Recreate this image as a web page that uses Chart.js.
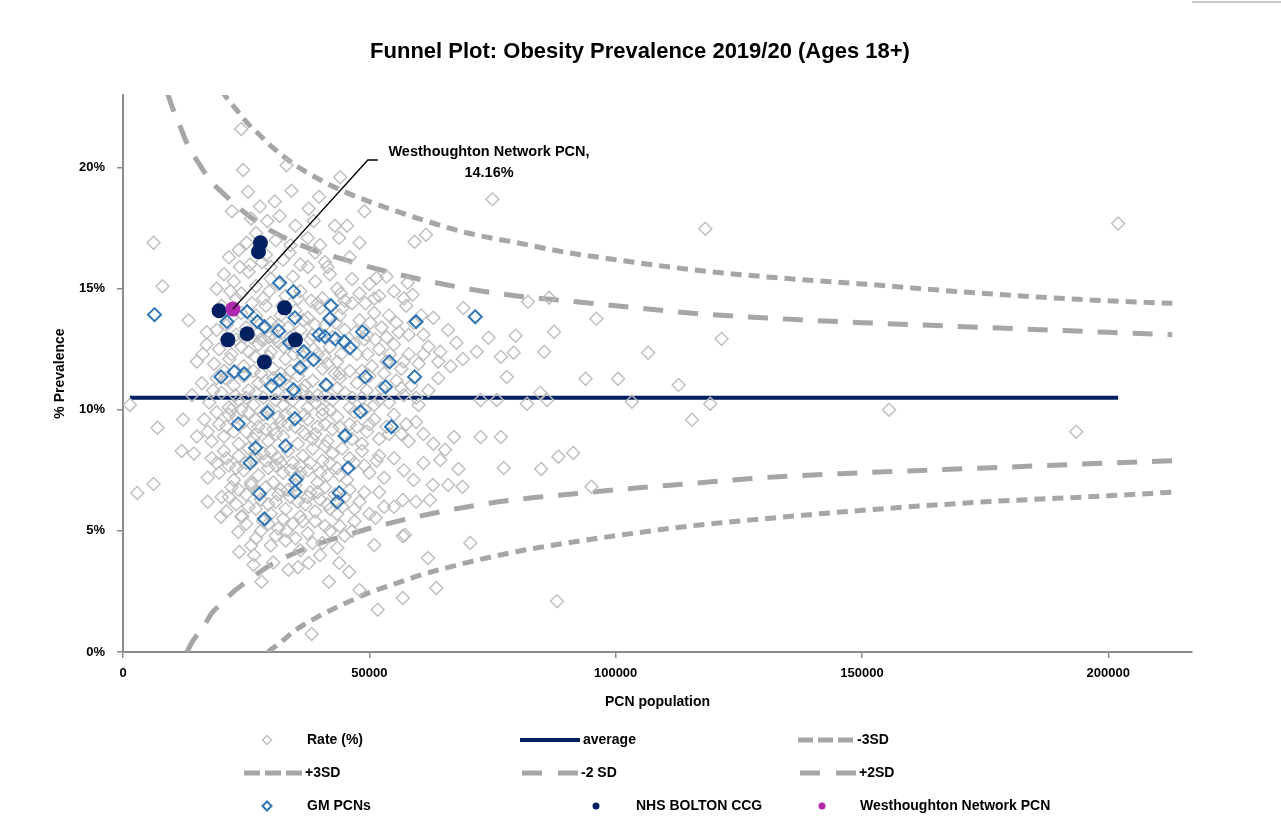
<!DOCTYPE html>
<html>
<head>
<meta charset="utf-8">
<title>Funnel Plot: Obesity Prevalence 2019/20</title>
<script src="https://cdn.jsdelivr.net/npm/chart.js@4.4.0/dist/chart.umd.min.js"></script>
<style>
  html, body { margin: 0; padding: 0; background: #fff; overflow: hidden; }
  #wrap { width: 1281px; height: 832px; }
</style>
</head>
<body>
<div id="wrap"><canvas id="funnel" width="1281" height="832"></canvas></div>
<script>
// population values are in thousands, rates in %
const titleText = 'Funnel Plot: Obesity Prevalence 2019/20 (Ages 18+)';
const xTicks = [0, 50000, 100000, 150000, 200000];
const yTicks = [0, 5, 10, 15, 20];

// all PCNs (grey diamonds)
const ratePoints = [
  [1.4,10.2],[2.9,6.57],[6.2,6.94],[6.2,16.9],[8.0,15.1],[7.0,9.26],[13.3,13.7],[11.9,8.3],[14.4,8.2],[17.2,7.2],
  [17.2,6.2],[12.2,9.6],[15.0,12.0],
  [24.0,21.6],[24.4,19.9],[25.4,19.0],[30.8,18.6],[34.2,19.05],[33.2,20.1],[44.1,19.6],[39.8,18.8],[49.0,18.2],
  [37.7,18.3],[29.3,17.8],[22.1,18.2],[38.7,17.8],[45.5,17.6],[43.0,17.6],[43.9,17.1],[59.2,16.94],[61.5,17.23],
  [75.0,18.7],[51.5,15.45],[57.8,15.25],[58.8,14.75],[69.1,14.2],[82.2,14.46],[86.5,14.63],[74.2,12.98],[79.7,13.06],
  [87.5,13.22],[96.1,13.76],[85.5,12.4],[64.4,12.4],[67.7,12.77],[71.8,12.4],[76.7,12.19],[79.3,12.36],[77.9,11.36],
  [72.6,10.41],[75.9,10.41],[82.0,10.25],[84.7,10.7],[86.1,10.41],[93.9,11.28],[100.5,11.28],[103.3,10.33],
  [67.2,8.88],[65.4,8.35],[72.6,8.88],[76.7,8.88],[64.4,7.93],[68.1,7.56],[68.9,6.82],[66.0,6.9],[62.9,6.9],
  [77.3,7.6],[84.9,7.56],[88.4,8.06],[91.4,8.22],[95.1,6.82],[59.5,6.2],[56.8,6.28],[62.3,6.28],[51.0,4.42],
  [56.8,4.79],[51.3,5.54],[57.2,4.83],[70.5,4.5],[28.1,2.9],[33.6,3.4],[37.7,3.68],[41.8,2.9],[43.9,3.68],
  [45.9,3.3],[48.0,2.56],[38.3,0.74],[51.7,1.74],[56.8,2.23],[61.9,3.88],[63.6,2.64],[88.1,2.1],
  [118.2,17.48],[121.5,12.93],[106.6,12.36],[115.5,9.59],[119.2,10.25],[112.8,11.03],[155.5,10.0],[193.5,9.09],[202.0,17.69],
  // 16 - 17.5
  [21.5,16.3],[23.5,16.6],[25.8,16.0],[27.0,17.3],[29.0,16.4],[31.0,17.0],[32.5,16.2],[34.0,16.8],[36.0,16.0],
  [37.5,17.1],[39.0,16.5],[41.0,16.1],[46.0,16.3],[48.0,16.9],[26.0,17.9],[30.0,15.9],
  [23.7,15.9],[28.2,16.1],[33.8,16.5],[40.0,16.8],[35.0,17.6],[31.8,18.0],[27.8,18.4],[25.1,16.9],
  // 14.5 - 16
  [19.0,15.0],[20.5,15.6],[22.5,15.3],[24.0,14.8],[25.5,15.7],[27.0,15.1],[28.5,14.6],[30.0,15.4],[31.5,15.2],
  [33.0,14.7],[34.5,15.5],[36.0,14.9],[37.5,15.9],[39.0,15.3],[40.5,14.6],[42.0,15.6],[43.5,15.0],[45.0,14.5],
  [46.5,15.4],[48.0,14.8],[50.0,15.2],[52.0,14.7],[53.5,15.5],[55.0,14.9],[57.0,14.6],[23.0,14.6],[35.5,14.6],[41.5,15.9],
  [21.8,14.9],[26.2,14.4],[29.7,14.9],[32.3,14.3],[38.2,14.5],[44.2,14.8],[49.2,14.4],[51.0,14.6],
  // 13 - 14.5
  [17.0,13.2],[19.0,13.3],[20.0,14.3],[21.0,13.5],[23.0,13.1],[24.0,14.0],[25.0,13.4],[26.5,13.8],[27.5,13.2],
  [29.0,14.3],[30.0,13.6],[31.0,13.0],[32.0,13.9],[33.5,13.4],[35.0,14.1],[36.0,13.3],[37.5,13.8],[38.5,13.1],
  [40.0,14.2],[41.0,13.5],[42.5,13.0],[44.0,13.9],[45.0,13.3],[46.5,14.4],[48.0,13.7],[49.5,13.1],[51.0,14.0],
  [52.5,13.4],[54.0,13.9],[56.0,13.2],[57.5,14.3],[59.0,13.6],[61.0,13.1],[63.0,13.8],[66.0,13.3],[28.0,12.9],
  [34.0,13.0],[39.5,14.4],[44.5,14.2],
  [22.0,13.8],[24.6,13.0],[27.0,13.9],[29.6,13.0],[31.6,13.5],[33.0,14.2],[36.6,13.7],[39.0,13.5],[43.2,13.6],
  [47.2,13.2],[50.2,13.6],[53.5,13.0],[55.5,13.6],[58.0,13.1],[60.5,13.9],
  // 11.5 - 13
  [17.0,12.7],[18.5,11.9],[19.5,12.5],[20.5,11.6],[22.0,12.3],[23.0,12.9],[24.5,11.8],[25.5,12.4],[26.5,11.6],
  [27.5,12.7],[29.5,12.2],[30.5,11.7],[31.5,12.8],[33.0,12.1],[34.0,11.6],[35.5,12.5],[37.0,11.9],[38.0,12.9],
  [39.5,12.3],[40.5,11.7],[42.0,12.6],[43.5,12.0],[45.0,12.8],[46.0,11.6],[47.5,12.3],[49.0,12.9],[50.5,11.8],
  [52.0,12.5],[53.5,12.0],[55.0,12.7],[56.5,11.7],[58.0,12.3],[60.0,11.9],[62.0,12.6],[64.0,12.0],[66.5,11.8],
  [69.0,12.1],[21.0,12.9],[26.0,13.0],[32.0,11.5],[36.5,12.2],[41.0,12.2],[44.0,11.5],[48.5,11.6],
  [16.2,12.3],[21.6,12.1],[24.0,12.6],[26.8,12.2],[28.6,12.9],[30.0,12.4],[32.6,12.6],[34.7,12.3],[36.2,11.7],
  [38.7,12.5],[41.5,11.9],[44.3,12.3],[46.8,12.7],[49.6,12.3],[51.2,12.9],[54.2,12.3],[57.0,12.0],[61.0,12.3],
  // 10 - 11.5
  [14.0,10.6],[16.0,11.1],[17.5,10.3],[19.0,11.3],[20.0,10.7],[21.5,10.1],[22.5,11.0],[23.5,10.4],[24.5,11.4],
  [25.5,10.8],[26.5,10.2],[27.5,11.1],[28.5,10.5],[29.5,10.0],[30.5,11.3],[31.5,10.7],[32.5,10.2],[33.5,11.0],
  [34.5,10.4],[35.5,11.4],[36.5,10.8],[37.5,10.1],[38.5,11.2],[39.5,10.6],[40.5,10.0],[41.5,11.0],[42.5,10.4],
  [44.0,11.3],[45.0,10.7],[46.0,10.1],[47.5,11.1],[48.5,10.5],[50.0,11.4],[51.0,10.2],[52.5,10.9],[54.0,10.3],
  [55.5,11.2],[57.0,10.6],[58.5,11.0],[60.0,10.2],[62.0,10.8],[64.0,11.3],[24.0,10.0],[28.0,11.5],[33.0,10.6],
  [38.0,10.5],[43.0,11.5],[49.0,10.0],[53.0,11.5],
  [18.3,10.8],[20.8,11.3],[22.8,10.6],[25.0,10.5],[27.0,10.7],[29.0,11.2],[31.0,10.4],[33.0,11.3],[35.0,10.7],
  [37.0,11.0],[39.0,10.3],[41.0,10.6],[43.5,10.9],[46.5,10.5],[49.5,10.8],[52.0,10.4],[56.5,10.9],[59.5,10.5],
  // 8.5 - 10
  [15.0,8.9],[16.5,9.6],[18.0,8.7],[19.5,9.4],[20.5,8.9],[21.5,9.8],[22.5,9.1],[23.5,8.6],[24.5,9.5],[25.5,9.9],
  [26.5,8.8],[27.5,9.3],[28.5,9.8],[29.5,8.7],[30.5,9.2],[31.5,9.7],[32.5,8.9],[33.5,9.4],[34.5,9.9],[35.5,8.6],
  [36.5,9.1],[37.5,9.6],[38.5,8.8],[39.5,9.3],[40.5,9.8],[41.5,8.7],[42.5,9.2],[43.5,9.7],[45.0,8.9],[46.0,9.4],
  [47.0,9.9],[48.5,8.6],[49.5,9.1],[51.0,9.6],[52.0,8.8],[53.5,9.3],[55.0,9.8],[56.5,9.0],[58.0,8.7],[59.5,9.5],
  [61.0,9.0],[63.0,8.6],[22.0,10.0],[27.0,9.0],[32.0,9.5],[37.0,9.0],[42.0,10.0],[47.5,9.3],
  [17.2,9.1],[19.0,9.9],[21.0,9.3],[23.0,9.7],[25.0,9.1],[27.0,9.6],[29.0,9.2],[31.0,9.0],[33.0,9.8],[35.0,9.3],
  [36.8,9.8],[39.0,9.0],[41.0,9.4],[44.0,9.3],[46.5,8.8],[50.0,9.4],[54.0,9.0],[57.5,9.4],
  // 7 - 8.5
  [18.0,8.0],[19.5,7.4],[20.5,8.3],[21.5,7.7],[22.5,7.1],[23.5,8.1],[24.5,7.5],[25.5,8.4],[26.5,7.9],[27.5,7.3],
  [28.5,8.2],[29.5,7.6],[30.5,7.0],[31.5,8.0],[32.5,7.4],[33.5,8.3],[34.5,7.8],[35.5,7.2],[36.5,8.1],[37.5,7.5],
  [38.5,8.4],[39.5,7.0],[40.5,7.9],[41.5,7.3],[42.5,8.2],[43.5,7.6],[44.5,8.4],[45.5,7.1],[47.0,7.8],[48.5,8.3],
  [50.0,7.4],[51.5,7.9],[53.0,7.2],[55.0,8.0],[57.0,7.5],[59.0,7.1],[61.0,7.8],[26.0,7.0],[31.0,7.7],[36.0,7.7],[41.0,8.5],
  [19.0,7.8],[21.0,8.0],[23.0,7.6],[25.0,7.8],[27.0,8.1],[29.0,7.9],[30.0,8.3],[32.0,7.8],[34.0,7.5],[36.0,7.4],
  [38.0,7.8],[40.0,7.4],[42.0,7.8],[44.0,7.3],[46.0,8.0],[49.0,7.7],[52.0,8.1],
  // 5.5 - 7
  [20.0,6.4],[21.0,5.8],[22.0,6.8],[23.0,6.1],[24.0,5.6],[25.0,6.5],[26.0,6.9],[27.0,5.9],[28.0,6.3],[29.0,6.8],
  [30.0,5.7],[31.0,6.2],[32.0,6.7],[33.0,5.9],[34.0,6.4],[35.0,6.9],[36.0,5.6],[37.0,6.1],[38.0,6.6],[39.0,5.8],
  [40.0,6.3],[41.0,6.8],[42.0,5.9],[43.0,6.5],[44.5,6.0],[46.0,6.7],[48.0,6.2],[50.0,5.7],[52.0,6.6],[55.0,6.0],[19.9,5.58],
  [21.5,6.4],[23.5,6.7],[25.5,6.0],[27.5,6.6],[29.5,6.1],[31.5,6.5],[33.5,6.7],[35.5,6.2],[37.5,6.4],[39.5,6.6],
  [41.5,6.1],[43.5,5.7],[45.0,6.4],[47.0,5.9],[49.0,6.6],[53.0,6.0],
  // 3.5 - 5.5
  [23.4,4.96],[23.6,4.13],[26.6,4.0],[25.0,5.3],[27.0,4.7],[28.5,5.4],[30.0,4.4],[31.5,5.1],[33.0,4.6],[34.5,5.3],
  [36.0,4.2],[37.5,4.9],[39.0,5.4],[40.5,4.5],[42.0,5.0],[43.5,4.3],[45.0,4.8],[33.2,5.0],[47.0,5.4],
  [24.2,5.6],[26.0,4.4],[28.0,5.0],[29.5,5.3],[31.0,4.8],[32.5,5.5],[35.0,4.7],[36.5,5.4],[38.5,4.5],[41.0,5.2],
  [44.0,5.2],[46.5,5.0],[26.5,3.6],[30.5,3.7],[35.5,3.5],[40.0,4.0]
];

// Greater Manchester PCNs (blue diamonds)
const gmPoints = [
  [6.4,13.93],[25.2,14.05],[21.1,13.64],[27.3,13.64],[28.7,13.43],[31.6,13.26],[31.8,15.25],[34.6,14.88],[34.9,13.8],
  [33.8,12.77],[36.7,12.4],[38.7,12.07],[35.9,11.74],[42.2,14.3],[42.0,13.76],[39.8,13.1],[41.0,13.02],[43.1,12.93],
  [44.9,12.81],[46.1,12.56],[48.6,13.22],[49.2,11.36],[41.2,11.03],[34.6,10.83],[31.8,11.24],[30.1,10.99],[24.6,11.49],
  [22.6,11.57],[19.9,11.36],[29.3,9.88],[23.4,9.42],[34.9,9.63],[48.2,9.92],[45.1,8.93],[33.0,8.51],[26.9,8.43],
  [25.8,7.81],[45.7,7.6],[27.7,6.53],[28.7,5.5],[35.1,7.11],[34.9,6.61],[43.9,6.57],[43.5,6.2],[59.2,11.36],
  [53.3,10.95],[54.5,9.3],[59.5,13.64],[71.5,13.84],[54.1,11.98]
];

// NHS Bolton CCG PCNs (navy dots)
const boltonPoints = [
  [19.5,14.09],[32.8,14.21],[21.3,12.89],[25.2,13.14],[35.0,12.89],[28.7,11.98],[27.9,16.9],[27.5,16.53]
];

const westhoughton = [[22.3,14.16]];

const averageLine = [[1.4,10.5],[202.0,10.5]];

// control limits
const plus3sd = [[20,23.2],[21,22.9],[23,22.4],[25,21.9],[28,21.3],[30,20.9],[35,20.1],[40,19.5],[45,19.0],[50,18.6],
  [60,17.9],[70,17.3],[80,16.9],[90,16.5],[100,16.2],[115,15.8],[130,15.5],[150,15.2],[175,14.8],[200,14.5],[213,14.4]];
const plus2sd = [[9,23.1],[10,22.5],[11,22.0],[12,21.5],[13,21.0],[15,20.3],[18,19.4],[20,19.0],[25,18.1],[30,17.4],
  [35,16.9],[40,16.5],[45,16.2],[50,15.9],[60,15.4],[70,15.0],[80,14.7],[90,14.5],[100,14.3],[115,14.0],[130,13.8],
  [150,13.6],[175,13.4],[200,13.2],[213,13.1]];
const minus2sd = [[13,0.0],[14,0.4],[15,0.7],[16.5,1.1],[18,1.6],[20,2.0],[22.5,2.5],[25,2.9],[30,3.6],[35,4.1],
  [40,4.5],[45,4.8],[50,5.1],[60,5.6],[70,6.0],[80,6.3],[90,6.5],[100,6.7],[115,6.95],[130,7.2],[150,7.4],[175,7.6],
  [200,7.8],[213,7.9]];
const minus3sd = [[29.4,0.0],[32,0.4],[35,0.9],[40,1.5],[45,2.0],[50,2.45],[55,2.8],[60,3.15],[70,3.7],[80,4.15],
  [90,4.5],[100,4.8],[115,5.2],[130,5.5],[150,5.85],[175,6.2],[200,6.45],[213,6.6]];

const FONT = "'Liberation Sans', Arial, sans-serif";
const GREY = '#a6a6a6';
const NAVY = '#002060';

const toXY = arr => arr.map(p => ({ x: p[0] * 1000, y: p[1] }));

const sdLine = (label, data, dash) => ({
  label: label,
  data: toXY(data),
  showLine: true,
  pointRadius: 0,
  borderColor: GREY,
  borderWidth: 5,
  borderDash: dash,
  cubicInterpolationMode: 'monotone',
  clip: 0,
  order: 6
});

// title, axis titles, legend and the data label are drawn by hand
const decor = {
  id: 'decor',
  afterDraw(chart) {
    const ctx = chart.ctx;
    const area = chart.chartArea;
    const xs = chart.scales.x, ys = chart.scales.y;
    ctx.save();
    ctx.fillStyle = '#000';
    ctx.textBaseline = 'middle';

    ctx.textAlign = 'center';
    ctx.font = 'bold 22px ' + FONT;
    ctx.fillText(titleText, 640, 52);

    ctx.font = 'bold 14px ' + FONT;
    ctx.fillText('PCN population', (area.left + area.right) / 2, 702);
    ctx.save();
    ctx.translate(60, (area.top + area.bottom) / 2);
    ctx.rotate(-Math.PI / 2);
    ctx.fillText('% Prevalence', 0, 0);
    ctx.restore();

    // leader line + label for Westhoughton
    const px = xs.getPixelForValue(westhoughton[0][0] * 1000);
    const py = ys.getPixelForValue(westhoughton[0][1]);
    ctx.strokeStyle = '#000';
    ctx.lineWidth = 1.3;
    ctx.beginPath();
    ctx.moveTo(px, py);
    ctx.lineTo(px + 135, 160);
    ctx.lineTo(px + 145, 160);
    ctx.stroke();
    ctx.font = 'bold 14.5px ' + FONT;
    ctx.fillText('Westhoughton Network PCN,', 489, 152);
    ctx.fillText('14.16%', 489, 173);

    // legend
    const hline = (x1, x2, y, color, w, dash) => {
      ctx.save();
      ctx.strokeStyle = color;
      ctx.lineWidth = w;
      ctx.setLineDash(dash);
      ctx.beginPath();
      ctx.moveTo(x1, y);
      ctx.lineTo(x2, y);
      ctx.stroke();
      ctx.restore();
    };
    const diamond = (x, y, r, color, w) => {
      ctx.save();
      ctx.strokeStyle = color;
      ctx.lineWidth = w;
      ctx.beginPath();
      ctx.moveTo(x, y - r); ctx.lineTo(x + r, y); ctx.lineTo(x, y + r); ctx.lineTo(x - r, y);
      ctx.closePath();
      ctx.stroke();
      ctx.restore();
    };
    const dot = (x, y, r, color) => {
      ctx.save();
      ctx.fillStyle = color;
      ctx.beginPath();
      ctx.arc(x, y, r, 0, Math.PI * 2);
      ctx.fill();
      ctx.restore();
    };

    diamond(267, 740, 4.5, '#bdbdbd', 1.4);
    hline(520, 580, 740, NAVY, 4, []);
    hline(798, 853, 740, GREY, 5, [15, 5]);
    hline(244, 302, 773, GREY, 5, [16, 5]);
    hline(522, 578, 773, GREY, 5, [20, 16]);
    hline(800, 856, 773, GREY, 5, [20, 16]);
    diamond(267, 806, 4.5, '#2e75b6', 2);
    dot(596, 806, 3.5, NAVY);
    dot(822, 806, 3.5, '#b02ab0');

    ctx.textAlign = 'left';
    ctx.font = 'bold 14px ' + FONT;
    ctx.fillText('Rate (%)', 307, 740);
    ctx.fillText('average', 583, 740);
    ctx.fillText('-3SD', 857, 740);
    ctx.fillText('+3SD', 305, 773);
    ctx.fillText('-2 SD', 581, 773);
    ctx.fillText('+2SD', 859, 773);
    ctx.fillText('GM PCNs', 307, 806);
    ctx.fillText('NHS BOLTON CCG', 636, 806);
    ctx.fillText('Westhoughton Network PCN', 860, 806);

    // frame edge top right
    hline(1192, 1281, 2, '#c8c8c8', 2, []);
    ctx.restore();
  }
};

Chart.defaults.font.family = FONT;
Chart.defaults.color = '#000';

new Chart(document.getElementById('funnel'), {
  type: 'scatter',
  data: {
    datasets: [
      {
        label: 'Westhoughton Network PCN',
        data: toXY(westhoughton),
        pointStyle: 'circle',
        pointRadius: 7.5,
        pointBackgroundColor: '#b02ab0',
        pointBorderColor: '#b02ab0',
        pointBorderWidth: 0,
        order: 1
      },
      {
        label: 'NHS BOLTON CCG',
        data: toXY(boltonPoints),
        pointStyle: 'circle',
        pointRadius: 7.5,
        pointBackgroundColor: NAVY,
        pointBorderColor: NAVY,
        pointBorderWidth: 0,
        order: 2
      },
      {
        label: 'GM PCNs',
        data: toXY(gmPoints),
        pointStyle: 'rectRot',
        pointRadius: 6.5,
        pointBackgroundColor: 'rgba(0,0,0,0)',
        pointBorderColor: '#2e75b6',
        pointBorderWidth: 2,
        order: 3
      },
      {
        label: 'Rate (%)',
        data: toXY(ratePoints),
        pointStyle: 'rectRot',
        pointRadius: 6.5,
        pointBackgroundColor: 'rgba(0,0,0,0)',
        pointBorderColor: '#bdbdbd',
        pointBorderWidth: 1.4,
        order: 4
      },
      {
        label: 'average',
        data: toXY(averageLine),
        showLine: true,
        pointRadius: 0,
        borderColor: NAVY,
        borderWidth: 4,
        order: 5
      },
      sdLine('-3SD', minus3sd, [11, 7]),
      sdLine('+3SD', plus3sd, [11, 7]),
      sdLine('-2 SD', minus2sd, [20, 15]),
      sdLine('+2SD', plus2sd, [20, 15])
    ]
  },
  options: {
    responsive: false,
    devicePixelRatio: 1,
    animation: false,
    layout: { padding: { top: 95, right: 89, left: 0, bottom: 0 } },
    plugins: {
      legend: { display: false },
      title: { display: false },
      tooltip: { enabled: false }
    },
    scales: {
      x: {
        type: 'linear',
        min: 0,
        max: 217000,
        afterFit: s => { s.height = 180; },
        afterBuildTicks: s => { s.ticks = xTicks.map(v => ({ value: v })); },
        grid: { drawOnChartArea: false, drawTicks: true, tickLength: 6, color: '#8c8c8c', lineWidth: 1.5 },
        border: { display: true, color: '#8c8c8c', width: 2 },
        ticks: {
          padding: 8,
          font: { size: 13, weight: 'bold' },
          color: '#000',
          callback: v => String(v)
        }
      },
      y: {
        type: 'linear',
        min: 0,
        max: 23,
        afterFit: s => { s.width = 123; },
        afterBuildTicks: s => { s.ticks = yTicks.map(v => ({ value: v })); },
        grid: { drawOnChartArea: false, drawTicks: true, tickLength: 6, color: '#8c8c8c', lineWidth: 1.5 },
        border: { display: true, color: '#8c8c8c', width: 2 },
        ticks: {
          padding: 12,
          font: { size: 13, weight: 'bold' },
          color: '#000',
          callback: v => v + '%'
        }
      }
    }
  },
  plugins: [decor]
});
</script>
</body>
</html>
